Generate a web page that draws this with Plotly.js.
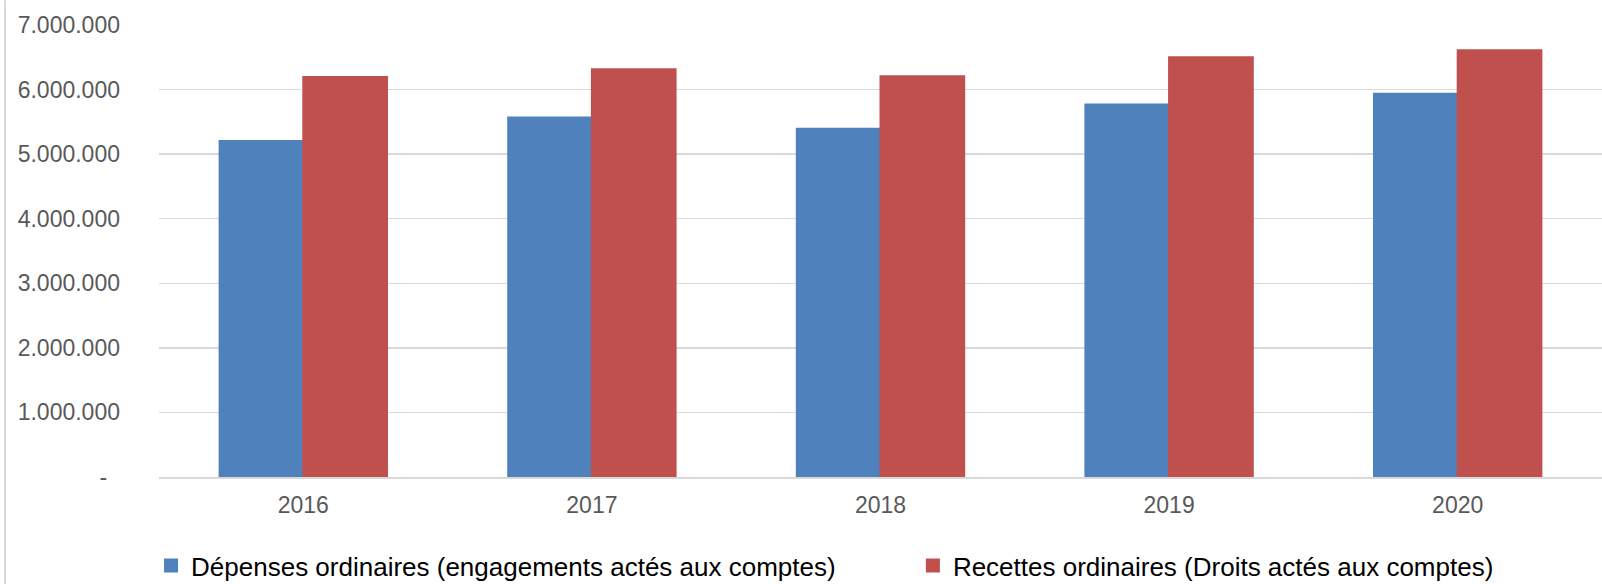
<!DOCTYPE html>
<html>
<head>
<meta charset="utf-8">
<script src="https://cdn.plot.ly/plotly-3.0.1.min.js"></script>
<style>html,body{margin:0;padding:0;background:#fff;}#chart{width:1602px;height:584px;}</style>
</head>
<body>
<div id="chart"></div>
<script>
var years = ['2016', '2017', '2018', '2019', '2020'];
var depenses = [5204000, 5566000, 5395000, 5767000, 5937000];
var recettes = [6195000, 6314000, 6205000, 6500000, 6608000];
var seriesNames = ['Dépenses ordinaires (engagements actés aux comptes)', 'Recettes ordinaires (Droits actés aux comptes)'];
var tickValues = [0, 1000000, 2000000, 3000000, 4000000, 5000000, 6000000, 7000000];
var tickLabels = ['-\u00a0\u00a0', '1.000.000', '2.000.000', '3.000.000', '4.000.000', '5.000.000', '6.000.000', '7.000.000'];

var FONT = 'Liberation Sans, Arial, sans-serif';
var W = 1602, H = 584, ML = 159, MR = 0, MT = 24.7, MB = 107.3;
var PW = W - ML - MR, PH = H - MT - MB;
var PAD = '\u00a0\u00a0\u00a0\u00a0\u00a0\u00a0\u00a0\u00a0\u00a0\u00a0';

var traces = [
  {type: 'bar', x: years, y: depenses, name: seriesNames[0] + PAD,
   marker: {color: '#4F81BD', line: {color: '#4F81BD', width: 2}}},
  {type: 'bar', x: years, y: recettes, name: seriesNames[1],
   marker: {color: '#C0504D', line: {color: '#C0504D', width: 2}}}
];

var layout = {
  width: W, height: H,
  margin: {l: ML, r: MR, t: MT, b: MB, pad: 0, autoexpand: false},
  paper_bgcolor: '#fff', plot_bgcolor: '#fff',
  font: {family: FONT, color: '#595959'},
  barmode: 'group', bargap: 0.42, bargroupgap: 0,
  hovermode: false,
  xaxis: {type: 'category', showgrid: false, zeroline: false, ticks: '',
          showline: true, linecolor: '#d9d9d9', linewidth: 1.5, layer: 'above traces',
          tickfont: {size: 23, color: '#595959', family: FONT}, ticklabelstandoff: 7},
  yaxis: {range: [0, 7000000], tickmode: 'array', tickvals: tickValues, ticktext: tickLabels,
          showgrid: true, gridcolor: '#d9d9d9', gridwidth: 1.5, zeroline: false, ticks: '',
          tickfont: {size: 23, color: '#595959', family: FONT}, ticklabelstandoff: 38},
  showlegend: true,
  legend: {orientation: 'h', x: -0.0055, xanchor: 'left', y: -0.144, yanchor: 'top',
           font: {size: 26, color: '#000', family: FONT},
           traceorder: 'normal', bgcolor: 'rgba(0,0,0,0)'},
  shapes: [
    {type: 'line', xref: 'paper', yref: 'paper', x0: (5 - ML) / PW, x1: (5 - ML) / PW,
     y0: -(H - MT - PH) / PH, y1: (PH + MT) / PH, line: {color: '#d9d9d9', width: 2}}
  ]
};

Plotly.newPlot('chart', traces, layout, {displayModeBar: false, staticPlot: true});
</script>
</body>
</html>
